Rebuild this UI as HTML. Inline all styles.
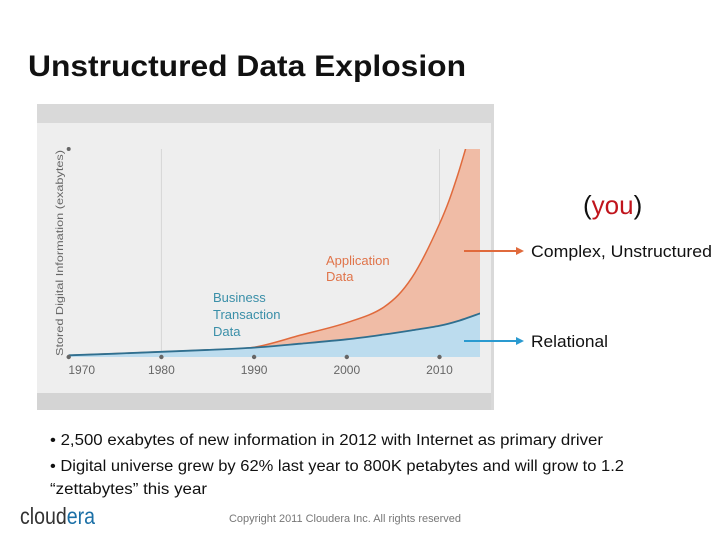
<!DOCTYPE html>
<html><head><meta charset="utf-8"><style>
html,body{margin:0;padding:0;background:#fff;}
svg{display:block;font-family:"Liberation Sans",sans-serif;}
</style></head><body>
<svg width="720" height="540" viewBox="0 0 720 540">
<text x="28" y="76" font-size="30" font-weight="bold" fill="#111" textLength="438" lengthAdjust="spacingAndGlyphs">Unstructured Data Explosion</text>
<g>
<rect x="37" y="104" width="457" height="306" fill="#eeeeee"/>
<rect x="37" y="104" width="457" height="19" fill="#d9d9d9"/>
<rect x="37" y="393" width="457" height="17" fill="#d4d4d4"/>
<rect x="491" y="104" width="3" height="306" fill="#d9d9d9"/>
<defs><clipPath id="pc"><rect x="60" y="149" width="420" height="210"/></clipPath></defs>
<g id="grid"></g>
<g id="areas" clip-path="url(#pc)"></g>
<g id="axis"></g>
<text transform="translate(63,356) rotate(-90)" font-size="10.5" fill="#666" textLength="206" lengthAdjust="spacingAndGlyphs">Stored Digital Information (exabytes)</text>
<text x="326" y="265" font-size="13" fill="#e0744a">Application</text>
<text x="326" y="281" font-size="13" fill="#e0744a">Data</text>
<text x="213" y="302" font-size="13" fill="#3a8fa8">Business</text>
<text x="213" y="319" font-size="13" fill="#3a8fa8">Transaction</text>
<text x="213" y="336" font-size="13" fill="#3a8fa8">Data</text>
</g>
<text x="583" y="214" font-size="26" fill="#111">(<tspan fill="#c0141c">you</tspan>)</text>
<line x1="464" y1="251" x2="518" y2="251" stroke="#e06a3c" stroke-width="2"/>
<polygon points="516,247 524,251 516,255" fill="#e06a3c"/>
<text x="531" y="257" font-size="17" fill="#111" textLength="181" lengthAdjust="spacingAndGlyphs">Complex, Unstructured</text>
<line x1="464" y1="341" x2="518" y2="341" stroke="#2a9ad0" stroke-width="2"/>
<polygon points="516,337 524,341 516,345" fill="#2a9ad0"/>
<text x="531" y="347" font-size="17" fill="#111" textLength="77" lengthAdjust="spacingAndGlyphs">Relational</text>
<text x="50" y="445" font-size="15.5" fill="#111" textLength="553" lengthAdjust="spacingAndGlyphs">• 2,500 exabytes of new information in 2012 with Internet as primary driver</text>
<text x="50" y="471" font-size="15.5" fill="#111" textLength="574" lengthAdjust="spacingAndGlyphs">• Digital universe grew by 62% last year to 800K petabytes and will grow to 1.2</text>
<text x="50" y="494" font-size="15.5" fill="#111" textLength="157" lengthAdjust="spacingAndGlyphs">“zettabytes” this year</text>
<text x="20" y="524" font-size="23" fill="#333" textLength="75" lengthAdjust="spacingAndGlyphs">cloud<tspan fill="#1a6fa6">era</tspan></text>
<text x="229" y="522" font-size="11" fill="#777" textLength="232" lengthAdjust="spacingAndGlyphs">Copyright 2011 Cloudera Inc. All rights reserved</text>
</svg>
<script>
const years = [1970, 1975, 1980, 1985, 1990, 1995, 2000, 2004, 2007, 2010, 2012, 2014.4];
const relational = [0.8, 1.6, 2.5, 3.4, 4.5, 6.4, 8.5, 10.8, 12.8, 15, 17.3, 21];
const total = [0.8, 1.6, 2.5, 3.4, 4.7, 10.5, 16.5, 24, 38, 64, 88, 125];
const tickYears = [1970, 1980, 1990, 2000, 2010];
const ns = "http://www.w3.org/2000/svg";
function xs(y){return 68.7 + (y-1970)*9.27;}
function ys(v){return 357 - v*2.08;}
function mk(tag, attrs, parent){const e=document.createElementNS(ns,tag);for(const k in attrs)e.setAttribute(k,attrs[k]);parent.appendChild(e);return e;}
function pathFor(vals){
  const pts = years.map((y,i)=>[xs(y),ys(vals[i])]);
  let d = "M"+pts[0][0]+","+pts[0][1];
  for(let i=0;i<pts.length-1;i++){
    const p0=pts[i-1]||pts[i], p1=pts[i], p2=pts[i+1], p3=pts[i+2]||p2;
    const c1=[p1[0]+(p2[0]-p0[0])/6, p1[1]+(p2[1]-p0[1])/6];
    const c2=[p2[0]-(p3[0]-p1[0])/6, p2[1]-(p3[1]-p1[1])/6];
    d+=" C"+c1+" "+c2+" "+p2;
  }
  return d;
}
const grid=document.getElementById('grid'), areas=document.getElementById('areas'), axis=document.getElementById('axis');
[1980,2010].forEach(y=>{
  const l=mk('line',{x1:xs(y),x2:xs(y),y1:149,y2:357,stroke:'#d6d6d6','stroke-width':1},grid);
  
  
});
const base = " L"+xs(years[years.length-1])+",357 L"+xs(years[0])+",357 Z";
const tp=pathFor(total), rp=pathFor(relational);
const a1=mk('path',{d:tp+base,fill:'#f0bca6'},areas);


const l1=mk('path',{d:tp,fill:'none',stroke:'#e06a3c','stroke-width':1.5},areas);


const a2=mk('path',{d:rp+base,fill:'#bcdcee'},areas);


const l2=mk('path',{d:rp,fill:'none',stroke:'#2f6f8f','stroke-width':1.8},areas);


const od=mk('circle',{cx:68.7,cy:149,r:2,fill:'#666'},axis);


tickYears.forEach(y=>{
  const c=mk('circle',{cx:xs(y),cy:357,r:2.2,fill:'#666'},axis);
  
  
  const t=mk('text',{x:xs(y)+(y===1970?13:0),y:374,'font-size':12,fill:'#666','text-anchor':'middle'},axis);
  t.textContent=y;
  
  
});
</script>
</body></html>
